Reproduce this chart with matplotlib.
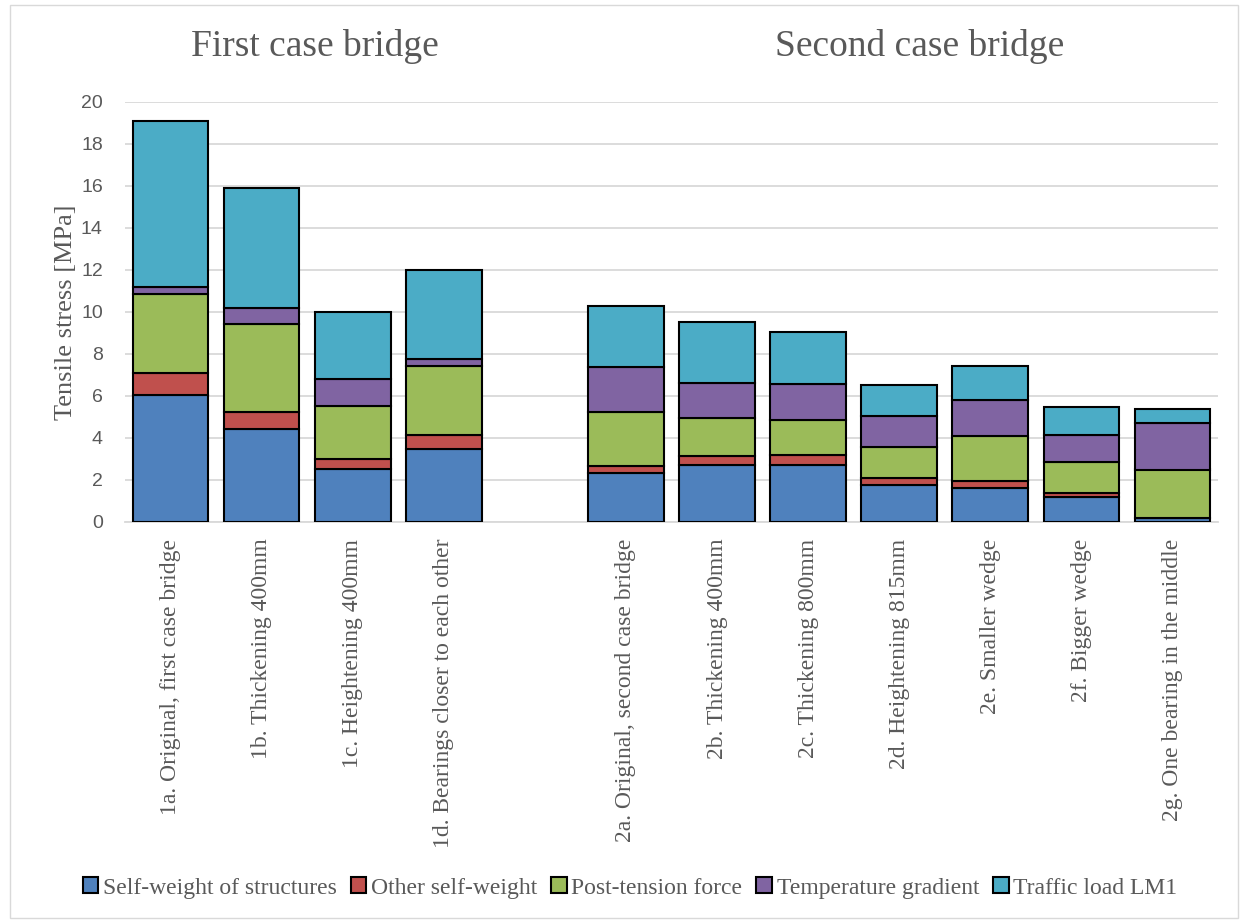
import matplotlib
matplotlib.use("Agg")
import matplotlib.pyplot as plt
import numpy as np

categories = ["1a. Original, first case bridge", "1b. Thickening 400mm", "1c. Heightening 400mm",
              "1d. Bearings closer to each other", "",
              "2a. Original, second case bridge", "2b. Thickening 400mm", "2c. Thickening 800mm",
              "2d. Heightening 815mm", "2e. Smaller wedge", "2f. Bigger wedge",
              "2g. One bearing in the middle"]

self_weight = [6.03, 4.45, 2.54, 3.49, 0, 2.32, 2.70, 2.73, 1.76, 1.64, 1.19, 0.18]
other_self = [1.07, 0.79, 0.48, 0.67, 0, 0.35, 0.43, 0.46, 0.34, 0.31, 0.21, 0.03]
post_tension = [3.78, 4.17, 2.50, 3.27, 0, 2.57, 1.81, 1.65, 1.49, 2.13, 1.46, 2.29]
temperature = [0.31, 0.80, 1.31, 0.32, 0, 2.14, 1.68, 1.73, 1.46, 1.75, 1.30, 2.20]
traffic = [7.91, 5.71, 3.19, 4.24, 0, 2.91, 2.90, 2.48, 1.47, 1.62, 1.32, 0.70]

series_names = ["Self-weight of structures", "Other self-weight", "Post-tension force",
                "Temperature gradient", "Traffic load LM1"]
colors = ["#4F81BD", "#C0504D", "#9BBB59", "#8064A2", "#4BACC6"]

serif = ["Liberation Serif", "DejaVu Serif"]
txt = "#595959"

fig = plt.figure(figsize=(12.45, 9.23), dpi=100)
ax = fig.add_axes([125 / 1245, 401 / 923, 1093 / 1245, 420 / 923])

x = np.arange(len(categories))
bottom = np.zeros(len(categories))
handles = []
mask = np.array([cat != "" for cat in categories])
for name, vals, c in zip(series_names, [self_weight, other_self, post_tension, temperature, traffic], colors):
    vals = np.array(vals)
    h = ax.bar(x[mask], vals[mask], 0.83, bottom=bottom[mask], color=c, edgecolor="black",
               linewidth=1.5, label=name, zorder=3)
    handles.append(h)
    bottom += vals

ax.set_xlim(-0.5, len(categories) - 0.5)
ax.set_ylim(0, 20)
ax.set_yticks(np.arange(0, 21, 2))
ax.yaxis.grid(True, color="#D9D9D9", linewidth=1.3, zorder=0)
for s in ["top", "right", "left"]:
    ax.spines[s].set_visible(False)
ax.spines["bottom"].set_color("#D9D9D9")
ax.spines["bottom"].set_linewidth(1.3)
ax.tick_params(axis="both", length=0)
ax.tick_params(axis="y", labelsize=14, labelcolor=txt, pad=16)
for lab in ax.get_yticklabels():
    lab.set_family(["Liberation Sans", "DejaVu Sans"])
ax.set_xticks(x)
ax.set_xticklabels(categories, rotation=90, fontsize=17, family=serif, color=txt)
ax.tick_params(axis="x", pad=12)

ax.set_ylabel("Tensile stress [MPa]", fontsize=19, family=serif, color=txt, labelpad=3)

fig.text(315 / 1245, 1 - 47 / 923, "First case bridge", fontsize=27, family=serif,
         color=txt, ha="center", va="center")
fig.text(920 / 1245, 1 - 47 / 923, "Second case bridge", fontsize=27, family=serif,
         color=txt, ha="center", va="center")

leg = fig.legend(handles=handles, labels=series_names, loc="center", bbox_to_anchor=(630 / 1245, 1 - 888 / 923),
                 ncol=5, frameon=False, prop={"family": serif, "size": 17}, handlelength=0.65,
                 handleheight=0.65, handletextpad=0.2, columnspacing=0.6)
for t in leg.get_texts():
    t.set_color(txt)

border = plt.Rectangle((10 / 1245, 5 / 923), 1228 / 1245, 913 / 923, transform=fig.transFigure,
                       fill=False, edgecolor="#D9D9D9", linewidth=1.0)
fig.patches.append(border)

fig.savefig("out.png", dpi=100)
